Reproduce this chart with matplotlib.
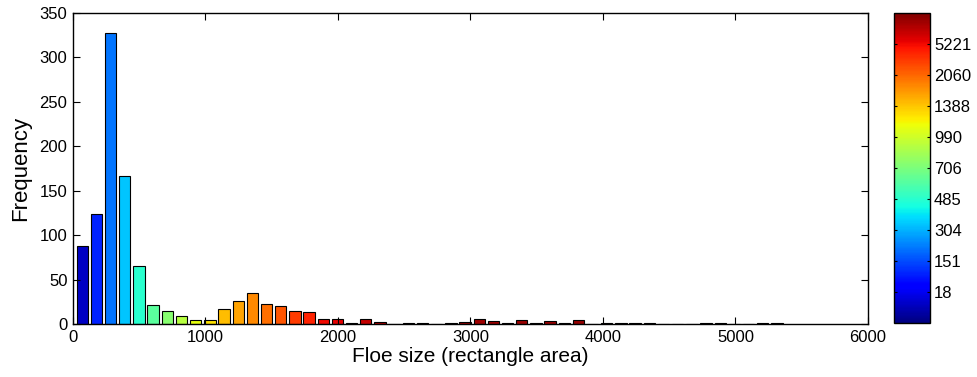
import numpy as np
import matplotlib
matplotlib.use('Agg')
import matplotlib.pyplot as plt
from matplotlib import cm, colors

plt.rcParams['font.family'] = ['Liberation Sans', 'DejaVu Sans']

# histogram of floe sizes (bins of ~107 units, first centre at 70)
first_center = 70
bin_width = 107
counts = [88, 124, 328, 167, 65, 21, 15, 9, 4, 5,
          17, 26, 35, 22, 20, 15, 14, 6, 6, 1,
          6, 2, 0, 1, 1, 0, 1, 2, 6, 3,
          1, 4, 1, 3, 1, 4, 0, 1, 1, 1,
          1, 0, 0, 0, 1, 1, 0, 0, 1, 1]

# colorbar tick labels (at 0.1 ... 0.9 of the colour scale)
cbar_labels = ['18', '151', '304', '485', '706', '990', '1388', '2060', '5221']

# how the bar colour moves along jet with floe size
shade_x = [70, 177, 391, 498, 926, 1140, 1889, 2300, 3000, 5400]
shade_f = [0.06, 0.16, 0.32, 0.40, 0.63, 0.71, 0.90, 0.95, 0.97, 0.99]

centers = first_center + bin_width * np.arange(len(counts))
jet = plt.get_cmap('jet')
bar_colors = [jet(f) for f in np.interp(centers, shade_x, shade_f)]

fig = plt.figure(figsize=(9.77, 3.77), dpi=100)
ax = fig.add_axes([0.0747, 0.1406, 0.8137, 0.8249])

ax.bar(centers, counts, width=0.8 * bin_width, color=bar_colors,
       edgecolor='black', linewidth=0.8)

ax.set_xlim(0, 6000)
ax.set_ylim(0, 350)
ax.set_xticks(range(0, 6001, 1000))
ax.set_yticks(range(0, 351, 50))
ax.tick_params(direction='in', length=5, width=0.8, labelsize=12,
               top=True, right=True, pad=4)
for s in ax.spines.values():
    s.set_linewidth(1.0)
ax.set_xlabel('Floe size (rectangle area)', fontsize=15, labelpad=2)
ax.set_ylabel('Frequency', fontsize=16, labelpad=6)

cax = fig.add_axes([0.9153, 0.1432, 0.0365, 0.8223])
sm = cm.ScalarMappable(norm=colors.Normalize(0, 1), cmap=jet)
cb = fig.colorbar(sm, cax=cax)
cb.set_ticks(np.arange(1, 10) / 10.0)
cb.set_ticklabels(cbar_labels)
cb.outline.set_linewidth(1.0)
cax.tick_params(direction='in', length=2.5, width=0.8, labelsize=12,
                left=True, right=True, pad=3)

fig.savefig('out.png', dpi=100)
